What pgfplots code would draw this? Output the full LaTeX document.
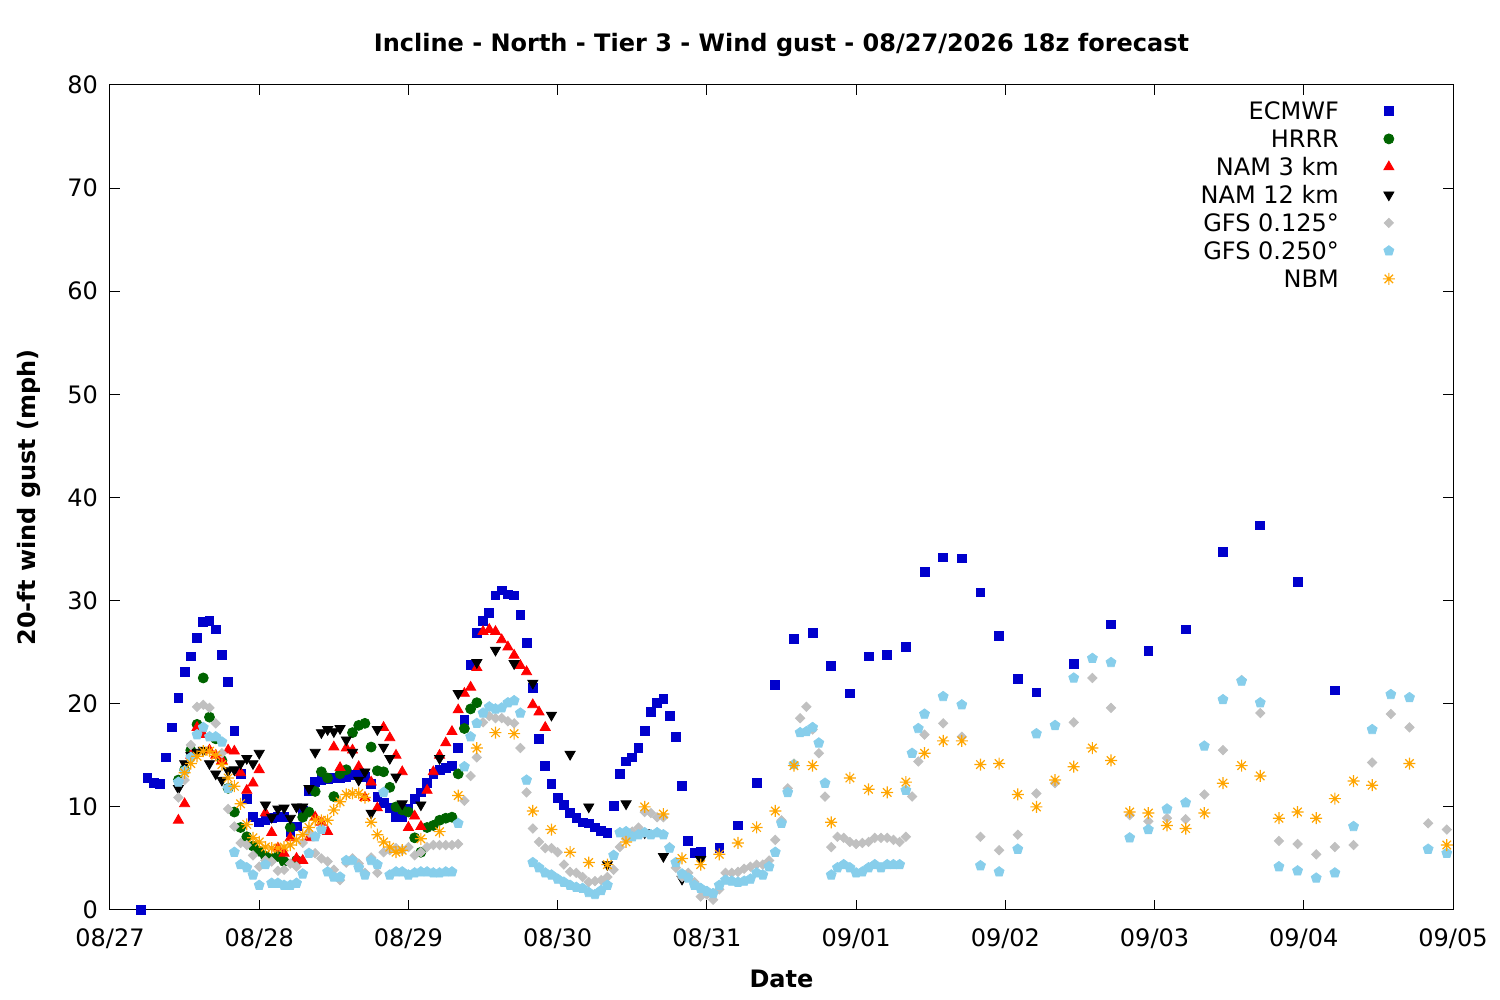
\documentclass[border=0pt]{standalone}
\usepackage{fontspec}
\setmainfont{DejaVu Sans}
\usepackage{pgfplots}
\pgfplotsset{compat=1.18}
\usetikzlibrary{plotmarks}
\definecolor{ecm}{RGB}{0,0,204}
\definecolor{hrrr}{RGB}{0,100,0}
\definecolor{gfsa}{RGB}{192,192,192}
\definecolor{gfsb}{RGB}{135,206,235}
\definecolor{nbm}{RGB}{255,165,0}
\pgfdeclareplotmark{ast8}{%
 \pgfpathmoveto{\pgfqpoint{-\pgfplotmarksize}{0pt}}\pgfpathlineto{\pgfqpoint{\pgfplotmarksize}{0pt}}%
 \pgfpathmoveto{\pgfqpoint{0pt}{-\pgfplotmarksize}}\pgfpathlineto{\pgfqpoint{0pt}{\pgfplotmarksize}}%
 \pgfpathmoveto{\pgfpointpolar{45}{\pgfplotmarksize}}\pgfpathlineto{\pgfpointpolar{225}{\pgfplotmarksize}}%
 \pgfpathmoveto{\pgfpointpolar{135}{\pgfplotmarksize}}\pgfpathlineto{\pgfpointpolar{315}{\pgfplotmarksize}}%
 \pgfusepathqstroke}
\begin{document}
\begin{tikzpicture}
\useasboundingbox (-55pt,-45pt) rectangle (695pt,455pt);
\begin{axis}[
 scale only axis, width=671.5pt, height=412.5pt,
 xmin=0, xmax=216, ymin=0, ymax=80,
 xtick={0,24,...,216},
 xticklabels={08/27,08/28,08/29,08/30,08/31,09/01,09/02,09/03,09/04,09/05},
 ytick={0,10,...,80},
 tick align=inside, major tick length=5pt,
 axis line style={line width=0.5pt},
 every tick/.style={line width=0.5pt, black},
 font=\fontsize{12}{14.4}\selectfont,
 /pgf/number format/assume math mode=true,
 title={\textbf{Incline - North - Tier 3 - Wind gust - 08/27/2026 18z forecast}},
 title style={at={(axis description cs:0.5,1)}, anchor=base, yshift=10.5pt},
 xlabel={\textbf{Date}},
 xlabel style={at={(axis description cs:0.5,0)}, anchor=base, yshift=-39pt},
 ylabel={\textbf{20-ft wind gust (mph)}},
 ylabel style={at={(axis description cs:-0.0555,0.5)}, anchor=base, rotate=0},
 xticklabel style={anchor=base, yshift=-18.5pt},
 yticklabel style={xshift=-2.5pt},
 clip=false,
 only marks,
 legend image code/.code={\draw[only marks,mark repeat=2,mark phase=2,#1] plot coordinates {(0cm,2.5pt)(0.3cm,2.5pt)(0.6cm,2.5pt)};},
 legend cell align=right, legend plot pos=right,
 legend style={at={(rel axis cs:0.957,0.980)}, anchor=north east, draw=none, fill=none,
   inner sep=0pt, row sep=0pt, column sep=22pt,
   nodes={inner sep=0pt, text height=9pt, text depth=5pt}},
]
\addplot[mark=square*, mark size=2.2pt, color=ecm] coordinates {
(5,0)(6,12.8)(7,12.3)(8,12.2)(9,14.8)(10,17.7)(11,20.6)(12,23.1)(13,24.6)(14,26.4)(15,27.9)(16,28.0)(17,27.2)(18,24.7)(19,22.1)(20,17.4)(21,13.2)(22,10.8)(23,9.0)(24,8.5)(25,8.7)(26,8.9)(27,9.0)(28,9.0)(29,7.6)(30,8.1)(31,9.6)(32,11.5)(33,12.4)(34,12.6)(35,12.7)(36,12.8)(37,12.8)(38,12.9)(39,13.1)(40,13.3)(41,12.9)(42,12.2)(43,11.0)(44,10.4)(45,9.9)(46,9.0)(47,9.0)(48,9.8)(49,10.8)(50,11.4)(51,12.3)(52,13.2)(53,13.6)(54,13.8)(55,14.0)(56,15.7)(57,18.4)(58,23.8)(59,26.9)(60,28.0)(61,28.8)(62,30.5)(63,31.0)(64,30.6)(65,30.5)(66,28.6)(67,25.9)(68,21.5)(69,16.6)(70,14.0)(71,12.2)(72,10.9)(73,10.2)(74,9.4)(75,8.9)(76,8.5)(77,8.4)(78,8.0)(79,7.7)(80,7.5)(81,10.1)(82,13.2)(83,14.4)(84,14.8)(85,15.7)(86,17.4)(87,19.2)(88,20.1)(89,20.5)(90,18.8)(91,16.8)(92,12.0)(93,6.7)(94,5.5)(95,5.6)(98,6.0)(101,8.2)(104,12.3)(107,21.8)(110,26.3)(113,26.9)(116,23.7)(119,21.0)(122,24.6)(125,24.7)(128,25.5)(131,32.8)(134,34.2)(137,34.1)(140,30.8)(143,26.6)(146,22.4)(149,21.1)(155,23.9)(161,27.7)(167,25.1)(173,27.2)(179,34.7)(185,37.3)(191,31.8)(197,21.3)};
\addlegendentry{ECMWF}
\addplot[mark=*, mark size=2.5pt, color=hrrr] coordinates {
(11,12.6)(12,13.6)(13,15.5)(14,18.0)(15,22.5)(16,18.7)(17,16.6)(18,14.5)(19,11.8)(20,9.5)(21,8.0)(22,7.1)(23,6.2)(24,5.7)(25,5.2)(26,5.0)(27,5.2)(28,4.7)(29,8.0)(30,4.8)(31,9.0)(32,9.5)(33,11.5)(34,13.4)(35,12.8)(36,11.0)(37,13.2)(38,13.6)(39,17.2)(40,17.9)(41,18.1)(42,15.8)(43,13.5)(44,13.4)(45,11.9)(46,10.0)(47,9.7)(48,9.5)(49,7.0)(50,5.6)(51,8.0)(52,8.2)(53,8.7)(54,8.9)(55,9.0)(56,13.2)(57,17.6)(58,19.5)(59,20.1)};
\addlegendentry{HRRR}
\addplot[mark=triangle*, mark size=2.9pt, color=red] coordinates {
(11,8.7)(12,10.3)(13,15.0)(14,17.7)(15,17.0)(16,15.5)(17,15.0)(18,14.5)(19,15.5)(20,15.4)(21,13.3)(22,11.6)(23,12.3)(24,13.6)(25,9.4)(26,7.5)(27,6.0)(28,5.5)(29,7.0)(30,5.0)(31,4.8)(32,7.0)(33,9.0)(34,8.5)(35,7.6)(36,15.8)(37,13.8)(38,15.7)(39,15.5)(40,13.9)(41,10.9)(42,12.4)(43,9.9)(44,17.7)(45,16.7)(46,15.0)(47,13.4)(48,8.0)(49,9.1)(50,8.1)(51,11.6)(52,13.4)(53,15.0)(54,16.2)(55,17.3)(56,19.4)(57,21.0)(58,21.6)(59,23.5)(60,27.0)(61,27.2)(62,27.0)(63,26.2)(64,25.5)(65,24.7)(66,23.7)(67,23.1)(68,19.9)(69,19.2)(70,17.7)};
\addlegendentry{NAM 3 km}
\addplot[mark=triangle*, mark size=2.9pt, mark options={rotate=180}, color=black] coordinates {
(11,11.8)(12,14.2)(13,15.0)(14,15.3)(15,15.5)(16,14.2)(17,13.2)(18,12.6)(19,13.5)(20,13.6)(21,14.2)(22,14.7)(23,14.2)(24,15.2)(25,10.2)(26,9.0)(27,9.8)(28,9.9)(29,8.9)(30,10.0)(31,10.0)(32,11.8)(33,15.3)(34,17.2)(35,17.5)(36,17.3)(37,17.6)(38,16.5)(39,15.3)(40,12.6)(41,13.4)(42,9.4)(43,17.5)(44,15.8)(45,14.7)(46,12.9)(47,10.3)(50,10.2)(53,14.7)(56,21.0)(59,24.0)(62,25.2)(65,23.9)(68,22.0)(71,18.9)(74,15.1)(77,10.0)(80,4.4)(83,10.3)(86,7.5)(89,5.2)(92,3.0)(95,4.9)};
\addlegendentry{NAM 12 km}
\addplot[mark=square*, mark size=1.65pt, mark options={rotate=45}, color=gfsa] coordinates {
(11,10.9)(12,12.6)(13,16.0)(14,19.7)(15,19.9)(16,19.6)(17,18.1)(18,15.2)(19,9.8)(20,8.1)(21,6.5)(22,6.3)(23,5.3)(24,4.2)(25,4.8)(26,4.7)(27,3.8)(28,3.9)(29,4.5)(30,4.2)(31,6.5)(32,7.5)(33,5.5)(34,5.0)(35,4.7)(36,3.9)(37,2.9)(38,4.6)(39,5.0)(40,4.5)(41,3.6)(42,5.1)(43,3.6)(44,5.6)(45,5.8)(46,6.0)(47,5.8)(48,6.1)(49,5.3)(50,5.6)(51,6.1)(52,6.3)(53,6.3)(54,6.3)(55,6.3)(56,6.4)(57,10.6)(58,13.0)(59,14.8)(60,18.2)(61,18.8)(62,18.6)(63,18.6)(64,18.3)(65,18.1)(66,15.7)(67,11.4)(68,7.9)(69,6.6)(70,6.0)(71,6.0)(72,5.6)(73,4.4)(74,3.7)(75,3.6)(76,3.2)(77,2.7)(78,2.8)(79,2.9)(80,3.2)(81,3.9)(82,6.1)(83,6.9)(84,7.6)(85,8.0)(86,9.5)(87,9.4)(88,9.0)(89,9.0)(90,6.1)(91,4.1)(92,3.2)(93,3.6)(94,2.7)(95,1.3)(96,1.5)(97,1.0)(98,2.0)(99,3.6)(100,3.6)(101,3.7)(102,4.0)(103,4.2)(104,4.4)(105,4.4)(106,4.8)(107,6.8)(108,8.7)(109,11.8)(110,14.2)(111,18.6)(112,19.7)(113,17.5)(114,15.2)(115,11.0)(116,6.1)(117,7.1)(118,7.0)(119,6.6)(120,6.4)(121,6.5)(122,6.6)(123,7.0)(124,7.0)(125,7.0)(126,6.8)(127,6.6)(128,7.1)(129,11.0)(130,14.4)(131,17.0)(134,18.1)(137,16.8)(140,7.1)(143,5.8)(146,7.3)(149,11.3)(152,12.3)(155,18.2)(158,22.5)(161,19.6)(164,9.2)(167,8.6)(170,8.9)(173,8.8)(176,11.2)(179,15.5)(182,22.3)(185,19.1)(188,6.7)(191,6.4)(194,5.4)(197,6.1)(200,6.3)(203,14.3)(206,19.0)(209,17.7)(212,8.4)(215,7.8)};
\addlegendentry{GFS 0.125°}
\addplot[mark=pentagon*, mark size=2.6pt, color=gfsb] coordinates {
(11,12.4)(12,13.5)(13,14.8)(14,17.0)(15,17.7)(16,16.8)(17,16.8)(18,16.3)(19,11.8)(20,5.6)(21,4.4)(22,4.1)(23,3.4)(24,2.4)(25,4.4)(26,2.6)(27,2.6)(28,2.4)(29,2.4)(30,2.6)(31,3.5)(32,5.5)(33,7.1)(34,7.8)(35,3.7)(36,3.2)(37,3.2)(38,4.8)(39,4.8)(40,4.1)(41,3.4)(42,4.8)(43,4.4)(44,11.4)(45,3.4)(46,3.7)(47,3.7)(48,3.4)(49,3.6)(50,3.7)(51,3.7)(52,3.6)(53,3.6)(54,3.7)(55,3.7)(56,8.4)(57,13.9)(58,16.8)(59,18.1)(60,19.1)(61,19.7)(62,19.5)(63,19.6)(64,20.1)(65,20.3)(66,19.1)(67,12.6)(68,4.6)(69,4.1)(70,3.6)(71,3.4)(72,3.0)(73,2.7)(74,2.4)(75,2.2)(76,2.1)(77,1.7)(78,1.5)(79,1.9)(80,2.4)(81,5.3)(82,7.5)(83,7.6)(84,7.1)(85,7.3)(86,7.5)(87,7.3)(88,7.5)(89,7.3)(90,6.0)(91,4.6)(92,3.5)(93,3.1)(94,2.4)(95,2.1)(96,1.8)(97,1.6)(98,2.4)(99,2.9)(100,2.8)(101,2.7)(102,2.8)(103,3.0)(104,3.6)(105,3.4)(106,4.2)(107,5.6)(108,8.4)(109,11.4)(110,14.1)(111,17.2)(112,17.3)(113,17.7)(114,16.2)(115,12.3)(116,3.4)(117,4.1)(118,4.4)(119,4.1)(120,3.6)(121,3.7)(122,4.1)(123,4.4)(124,4.1)(125,4.4)(126,4.4)(127,4.4)(128,11.6)(129,15.2)(130,17.6)(131,19.0)(134,20.7)(137,19.9)(140,4.3)(143,3.7)(146,5.9)(149,17.1)(152,17.9)(155,22.5)(158,24.4)(161,24.0)(164,7.0)(167,7.8)(170,9.8)(173,10.4)(176,15.9)(179,20.4)(182,22.2)(185,20.1)(188,4.2)(191,3.8)(194,3.1)(197,3.6)(200,8.1)(203,17.5)(206,20.9)(209,20.6)(212,5.9)(215,5.5)};
\addlegendentry{GFS 0.250°}
\addplot[mark=ast8, mark size=3pt, mark options={line width=0.6pt}, color=nbm] coordinates {
(12,13.3)(13,14.2)(14,14.9)(15,15.4)(16,15.4)(17,15.0)(18,14.1)(19,12.8)(20,12.0)(21,10.3)(22,8.3)(23,7.0)(24,6.6)(25,6.1)(26,6.0)(27,6.0)(28,6.1)(29,6.3)(30,6.8)(31,7.3)(32,8.0)(33,8.7)(34,8.7)(35,8.7)(36,9.7)(37,10.5)(38,11.2)(39,11.3)(40,11.3)(41,10.9)(42,8.5)(43,7.3)(44,6.6)(45,6.1)(46,5.6)(47,5.8)(50,6.9)(53,7.6)(56,11.1)(59,15.7)(62,17.2)(65,17.1)(68,9.6)(71,7.8)(74,5.6)(77,4.6)(80,4.4)(83,6.6)(86,10.0)(89,9.3)(92,5.0)(95,4.4)(98,5.4)(101,6.5)(104,8.0)(107,9.6)(110,14.0)(113,14.0)(116,8.5)(119,12.8)(122,11.7)(125,11.4)(128,12.4)(131,15.2)(134,16.4)(137,16.4)(140,14.1)(143,14.2)(146,11.2)(149,10.0)(152,12.6)(155,13.9)(158,15.7)(161,14.5)(164,9.5)(167,9.4)(170,8.2)(173,7.9)(176,9.4)(179,12.3)(182,14.0)(185,13.0)(188,8.9)(191,9.5)(194,8.9)(197,10.8)(200,12.5)(203,12.1)(209,14.2)(215,6.3)};
\addlegendentry{NBM}
\end{axis}
\end{tikzpicture}
\end{document}
